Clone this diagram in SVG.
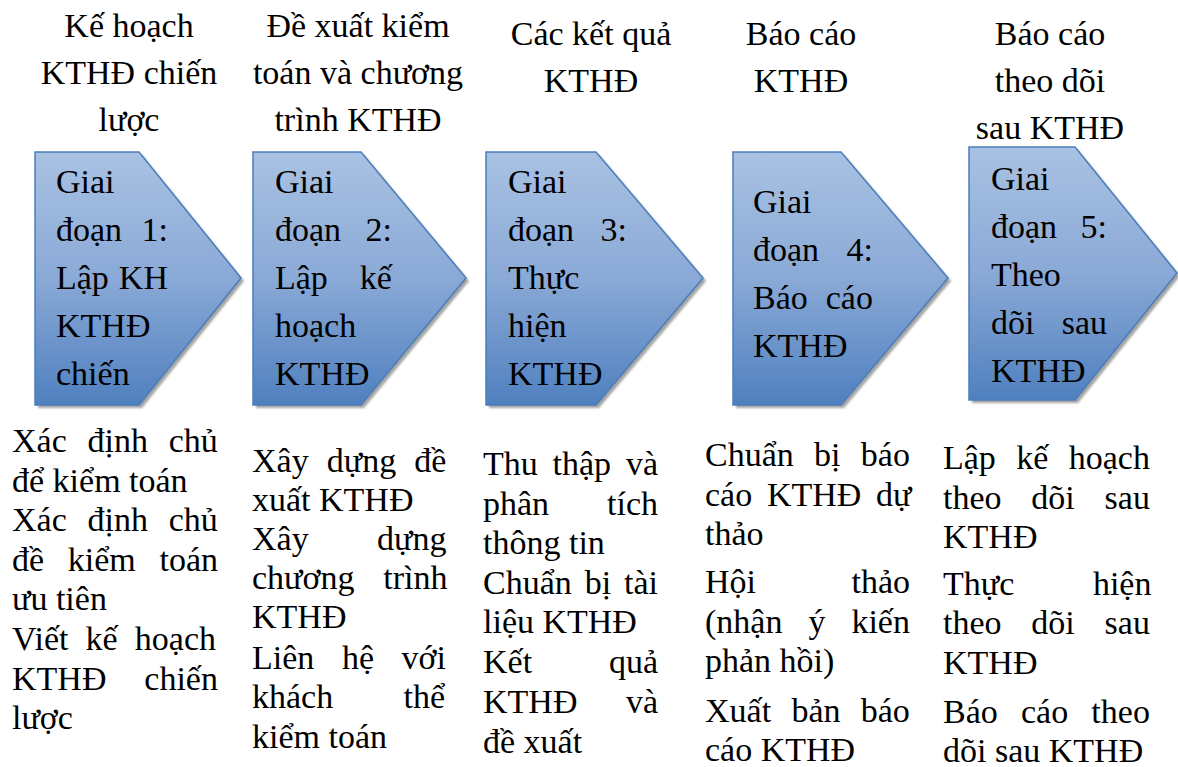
<svg xmlns="http://www.w3.org/2000/svg" width="1178" height="767" viewBox="0 0 1178 767">
<style>
.t{font-family:"Liberation Serif","Times New Roman",serif;font-size:34px;fill:#000}
.c{text-anchor:middle}
.shape{fill:url(#g);stroke:#4a7ebb;stroke-width:1.5}
.shadow{fill:#8c8c8c;filter:url(#blur);opacity:0.8}
</style>
<defs>
<linearGradient id="g" x1="0" y1="0" x2="0" y2="1">
<stop offset="0" stop-color="#a9c2e3"/>
<stop offset="0.5" stop-color="#8aa9d6"/>
<stop offset="1" stop-color="#4f80bf"/>
</linearGradient>
<filter id="blur" x="-10%" y="-10%" width="120%" height="120%"><feGaussianBlur stdDeviation="1.2"/></filter>
</defs>
<rect width="1178" height="767" fill="#fff"/>

<g id="top-labels">
<text class="t c" x="129" y="37">Kế hoạch</text>
<text class="t c" x="129" y="84">KTHĐ chiến</text>
<text class="t c" x="129" y="131">lược</text>
<text class="t c" x="358" y="37">Đề xuất kiểm</text>
<text class="t c" x="358" y="84">toán và chương</text>
<text class="t c" x="358" y="131">trình KTHĐ</text>
<text class="t c" x="591" y="45">Các kết quả</text>
<text class="t c" x="591" y="92">KTHĐ</text>
<text class="t c" x="801" y="45">Báo cáo</text>
<text class="t c" x="801" y="92">KTHĐ</text>
<text class="t c" x="1050" y="45">Báo cáo</text>
<text class="t c" x="1050" y="92">theo dõi</text>
<text class="t c" x="1050" y="139">sau KTHĐ</text>
</g>

<g id="connectors"></g>

<g id="stage1">
<polygon class="shadow" points="38,155 142,155 244,281 142,408 38,408"/>
<polygon class="shape" points="35,152 139,152 241,278 139,405 35,405"/>
<text class="t" x="56" y="193">Giai</text>
<text class="t" x="56" y="241" style="word-spacing:11px">đoạn 1:</text>
<text class="t" x="56" y="289" style="word-spacing:1.5px">Lập KH</text>
<text class="t" x="56" y="337">KTHĐ</text>
<text class="t" x="56" y="385">chiến</text>
</g>

<g id="stage2">
<polygon class="shadow" points="256,155 364,155 469,281 364,408 256,408"/>
<polygon class="shape" points="253,152 361,152 466,278 361,405 253,405"/>
<text class="t" x="275" y="193">Giai</text>
<text class="t" x="275" y="241" style="word-spacing:16px">đoạn 2:</text>
<text class="t" x="275" y="289" style="word-spacing:23.5px">Lập kế</text>
<text class="t" x="275" y="337">hoạch</text>
<text class="t" x="275" y="385">KTHĐ</text>
</g>

<g id="stage3">
<polygon class="shadow" points="489,155 599,155 706,281 599,408 489,408"/>
<polygon class="shape" points="486,152 596,152 703,278 596,405 486,405"/>
<text class="t" x="508" y="193">Giai</text>
<text class="t" x="508" y="241" style="word-spacing:18px">đoạn 3:</text>
<text class="t" x="508" y="289">Thực</text>
<text class="t" x="508" y="337">hiện</text>
<text class="t" x="508" y="385">KTHĐ</text>
</g>

<g id="stage4">
<polygon class="shadow" points="736,155 844,155 951,281 844,408 736,408"/>
<polygon class="shape" points="733,152 841,152 948,278 841,405 733,405"/>
<text class="t" x="753" y="213">Giai</text>
<text class="t" x="753" y="261" style="word-spacing:19px">đoạn 4:</text>
<text class="t" x="753" y="309" style="word-spacing:9.5px">Báo cáo</text>
<text class="t" x="753" y="357">KTHĐ</text>
</g>

<g id="stage5">
<polygon class="shadow" points="972,150 1078,150 1180,276 1078,403 972,403"/>
<polygon class="shape" points="969,147 1075,147 1177,273 1075,400 969,400"/>
<text class="t" x="991" y="190">Giai</text>
<text class="t" x="991" y="238" style="word-spacing:15px">đoạn 5:</text>
<text class="t" x="991" y="286">Theo</text>
<text class="t" x="991" y="334" style="word-spacing:18.7px">dõi sau</text>
<text class="t" x="991" y="382">KTHĐ</text>
</g>

<g id="tasks1">
<text class="t" x="12" y="452" style="word-spacing:12.3px">Xác định chủ</text>
<text class="t" x="12" y="492">để kiểm toán</text>
<text class="t" x="12" y="531" style="word-spacing:12.3px">Xác định chủ</text>
<text class="t" x="12" y="571" style="word-spacing:15.2px">đề kiểm toán</text>
<text class="t" x="12" y="610">ưu tiên</text>
<text class="t" x="12" y="650" style="word-spacing:8.6px">Viết kế hoạch</text>
<text class="t" x="12" y="690" style="word-spacing:29.4px">KTHĐ chiến</text>
<text class="t" x="12" y="729">lược</text>
</g>

<g id="tasks2">
<text class="t" x="252" y="472" style="word-spacing:9.6px">Xây dựng đề</text>
<text class="t" x="252" y="511">xuất KTHĐ</text>
<text class="t" x="252" y="550" style="word-spacing:59.9px">Xây dựng</text>
<text class="t" x="252" y="589" style="word-spacing:20.2px">chương trình</text>
<text class="t" x="252" y="628">KTHĐ</text>
<text class="t" x="252" y="669" style="word-spacing:19.1px">Liên hệ với</text>
<text class="t" x="252" y="708" style="word-spacing:61.8px">khách thể</text>
<text class="t" x="252" y="748">kiểm toán</text>
</g>

<g id="tasks3">
<text class="t" x="483" y="475" style="word-spacing:6.3px">Thu thập và</text>
<text class="t" x="483" y="515" style="word-spacing:49.4px">phân tích</text>
<text class="t" x="483" y="554">thông tin</text>
<text class="t" x="483" y="594" style="word-spacing:4.4px">Chuẩn bị tài</text>
<text class="t" x="483" y="633">liệu KTHĐ</text>
<text class="t" x="483" y="673" style="word-spacing:68.3px">Kết quả</text>
<text class="t" x="483" y="713" style="word-spacing:40px">KTHĐ và</text>
<text class="t" x="483" y="753">đề xuất</text>
</g>

<g id="tasks4">
<text class="t" x="705" y="466" style="word-spacing:11.8px">Chuẩn bị báo</text>
<text class="t" x="705" y="506" style="word-spacing:6.2px">cáo KTHĐ dự</text>
<text class="t" x="705" y="545">thảo</text>
<text class="t" x="705" y="593" style="word-spacing:87px">Hội thảo</text>
<text class="t" x="705" y="633" style="word-spacing:17.5px">(nhận ý kiến</text>
<text class="t" x="705" y="672">phản hồi)</text>
<text class="t" x="705" y="722" style="word-spacing:11.8px">Xuất bản báo</text>
<text class="t" x="705" y="761">cáo KTHĐ</text>
</g>

<g id="tasks5">
<text class="t" x="943" y="469" style="word-spacing:11.9px">Lập kế hoạch</text>
<text class="t" x="943" y="509" style="word-spacing:21.3px">theo dõi sau</text>
<text class="t" x="943" y="548">KTHĐ</text>
<text class="t" x="943" y="595" style="word-spacing:70.1px">Thực hiện</text>
<text class="t" x="943" y="634" style="word-spacing:21.3px">theo dõi sau</text>
<text class="t" x="943" y="674">KTHĐ</text>
<text class="t" x="943" y="723" style="word-spacing:14.7px">Báo cáo theo</text>
<text class="t" x="943" y="762">dõi sau KTHĐ</text>
</g>
</svg>
